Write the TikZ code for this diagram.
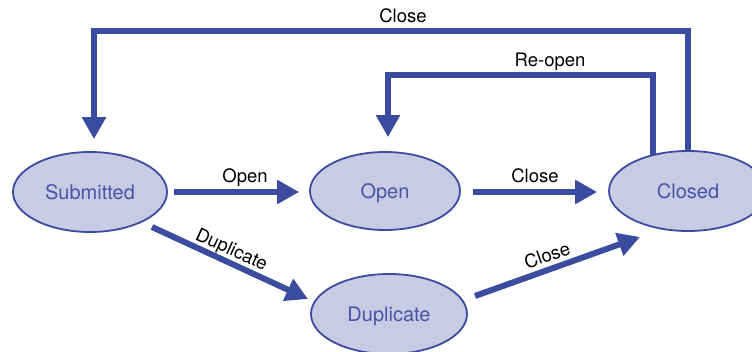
\documentclass[tikz,border=0pt]{standalone}
\usepackage{fontspec}
\setmainfont{TeX Gyre Heros}
\usetikzlibrary{shapes.geometric,arrows.meta,calc}
\definecolor{edgeblue}{HTML}{3A4BA0}
\definecolor{nodefill}{HTML}{C9CAE3}
\definecolor{nodetext}{HTML}{4455A8}
\begin{document}
\begin{tikzpicture}[x=1pt,y=-1pt,
  state/.style={ellipse,draw=edgeblue,line width=1.8pt,fill=nodefill,text=nodetext,
    inner sep=0pt,text depth=0pt,font=\fontsize{20}{22}\selectfont},
  arr/.style={draw=edgeblue,line width=6pt,-{Triangle[width=23pt,length=22pt]}},
  lbl/.style={font=\fontsize{18.5}{20}\selectfont,text=black,inner sep=0pt,text depth=0pt}]
\clip (0,0) rectangle (752,352);
\fill[white] (0,0) rectangle (752,352);

\node[state,minimum width=154pt,minimum height=80pt] (sub) at (90,192) {Submitted};
\node[state,minimum width=150pt,minimum height=78pt] (open) at (385,191) {Open};
\node[state,minimum width=158pt,minimum height=80pt] (closed) at (688,191) {Closed};
\node[state,minimum width=156pt,minimum height=80pt] (dup) at (389,314) {Duplicate};

% Submitted -> Open
\draw[arr] ($(sub.east)+(6,0)$) -- ($(open.west)+(-10,1)$);
\node[lbl] (lopen) at (245,176) {Open};

% Open -> Closed
\draw[arr] ($(open.east)+(12,1)$) -- ($(closed.west)+(-11,1)$);
\node[lbl] (lclose1) at (535,176) {Close};

% Submitted -> Duplicate
\draw[arr] ($(sub.center)+(62,35)$) -- ($(dup.center)+(-81,-15)$);
\node[lbl,rotate=-24.8] (ldup) at (232,249) {Duplicate};

% Duplicate -> Closed
\draw[arr] ($(dup.center)+(86,-18)$) -- ($(closed.center)+(-48,46)$);
\node[lbl,rotate=19.7] (lclose2) at (547,255) {Close};

% Closed -> Submitted (top)
\coordinate (topleft) at (94,31);
\draw[arr] (closed.north) |- (topleft) -- ($(sub.north)+(4,-12)$);
\node[lbl] (lclose3) at (403,16) {Close};

% Closed -> Open (re-open)
\coordinate (reright) at ($(closed.center)+(-35,-36)$);
\coordinate (releft) at (388,75);
\draw[arr] (reright) |- (releft) -- ($(open.north)+(3,-14)$);
\node[lbl] (lreopen) at (550,60) {Re-open};
\end{tikzpicture}
\end{document}
